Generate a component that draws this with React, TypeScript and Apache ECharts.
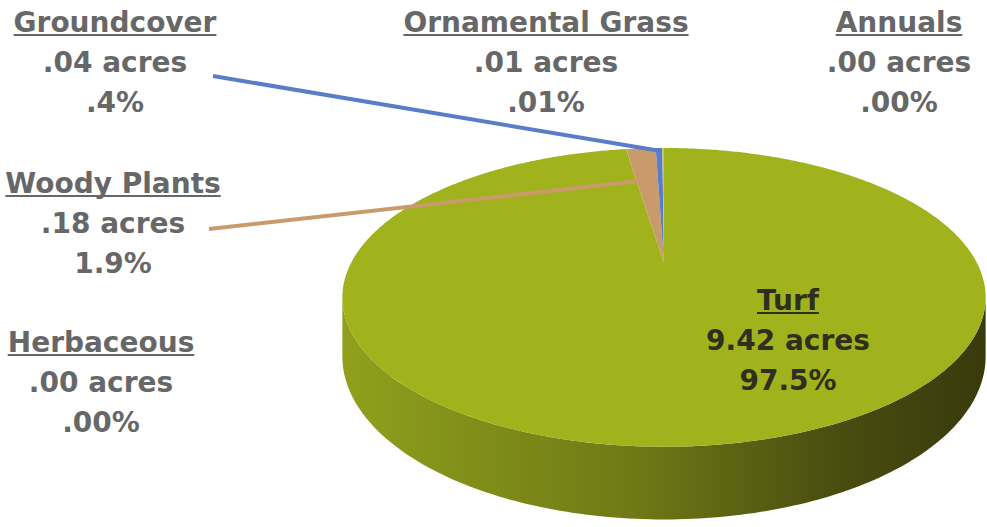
import React, { useEffect, useRef } from "react";
import * as echarts from "echarts";

// ---- data ----
const categories = ["Turf", "Woody Plants", "Groundcover", "Ornamental Grass", "Annuals", "Herbaceous"];
const acres = [9.42, 0.18, 0.04, 0.01, 0.0, 0.0];
const acreLabels = ["9.42 acres", ".18 acres", ".04 acres", ".01 acres", ".00 acres", ".00 acres"];
const percentLabels = ["97.5%", "1.9%", ".4%", ".01%", ".00%", ".00%"];

// ---- styles / layout ----
const topColors = ["#a0b21c", "#c99b6c", "#5b7cc8", "#b9c96e", "#e0c060", "#8fb0d8"];
const labelColors = ["#302e1c", "#676767", "#676767", "#676767", "#676767", "#676767"];
const labelPos: [number, number][] = [
  [788, 300],
  [113, 183],
  [115, 22],
  [546, 22],
  [899, 22],
  [101, 342],
];
const leaderStart: ([number, number] | null)[] = [null, [209, 229], [213, 76], null, null, null];
const leaderFrac = [0, 0.68, 0.97, 0, 0, 0];

const W = 987;
const H = 527;
const CX = 664;
const CY = 263;
const R = 313;
const PERSP = 0.23;
const TILT = 0.452;
const DEPTH = 56;
const FONT_SIZE = 28;
const FONT_FAMILY = "'DejaVu Sans'";
const LINE_H = 40;

function proj(theta: number, r: number, drop = 0): [number, number] {
  const t = (theta * Math.PI) / 180;
  const u = r * R * Math.sin(t);
  const v = r * R * Math.cos(t);
  const k = 1 / (1 + (PERSP * v) / R);
  return [CX + u * k, CY - TILT * v * k + drop * k];
}

const SIDE_MIN = (Math.acos(-PERSP) * 180) / Math.PI; // right silhouette
const SIDE_MAX = 360 - SIDE_MIN; // left silhouette

function measure(text: string): number {
  const c = document.createElement("canvas").getContext("2d");
  if (!c) return text.length * FONT_SIZE * 0.7;
  c.font = `bold ${FONT_SIZE}px ${FONT_FAMILY}`;
  return c.measureText(text).width;
}

export default function App() {
  const ref = useRef<HTMLDivElement>(null);
  useEffect(() => {
    document.body.style.margin = "0";
    if (!ref.current) return;
    const chart = echarts.init(ref.current, undefined, { renderer: "svg" });

    const total = acres.reduce((a, b) => a + b, 0);
    const starts: number[] = [];
    const ends: number[] = [];
    let acc = 0;
    acres.forEach((v) => {
      starts.push((acc / total) * 360);
      acc += v;
      ends.push((acc / total) * 360);
    });

    const sideGradient = new echarts.graphic.LinearGradient(0, 0, 1, 0, [
      { offset: 0, color: "#8fa01c" },
      { offset: 0.45, color: "#6f7a15" },
      { offset: 0.75, color: "#4b4f10" },
      { offset: 1, color: "#383a0c" },
    ]);

    const graphics: any[] = [];
    categories.forEach((name, i) => {
      const [x, y] = labelPos[i];
      const font = `bold ${FONT_SIZE}px ${FONT_FAMILY}`;
      const lines = [name, acreLabels[i], percentLabels[i]];
      lines.forEach((t, j) => {
        graphics.push({
          type: "text",
          x,
          y: y + j * LINE_H,
          z: 100,
          style: {
            text: t,
            font,
            fill: labelColors[i],
            textAlign: "center",
            textVerticalAlign: "middle",
          },
        });
      });
      const w = measure(name);
      graphics.push({
        type: "line",
        z: 100,
        shape: { x1: x - w / 2, y1: y + 13, x2: x + w / 2, y2: y + 13 },
        style: { stroke: labelColors[i], lineWidth: 2 },
      });
      const ls = leaderStart[i];
      if (ls) {
        const mid = (starts[i] + ends[i]) / 2;
        const [ex, ey] = proj(mid, leaderFrac[i]);
        graphics.push({
          type: "line",
          z: 100,
          shape: { x1: ls[0], y1: ls[1], x2: ex, y2: ey },
          style: { stroke: topColors[i], lineWidth: 4 },
        });
      }
    });

    chart.setOption({
      animation: false,
      series: [
        {
          type: "custom",
          coordinateSystem: "none",
          data: acres.map((v, i) => [i, v]),
          renderItem: (params: any, api: any) => {
            const i = params.dataIndex;
            const val = api.value(1);
            const a0 = starts[i];
            const a1 = ends[i];
            if (!(val > 0) || a1 - a0 <= 1e-6) return { type: "group", children: [] };
            const children: any[] = [];
            const s0 = Math.max(a0, SIDE_MIN);
            const s1 = Math.min(a1, SIDE_MAX);
            if (s1 > s0) {
              const pts: [number, number][] = [];
              const n = Math.max(2, Math.ceil(s1 - s0));
              for (let k = 0; k <= n; k++) pts.push(proj(s0 + ((s1 - s0) * k) / n, 1, 0));
              for (let k = n; k >= 0; k--) pts.push(proj(s0 + ((s1 - s0) * k) / n, 1, DEPTH));
              children.push({
                type: "polygon",
                shape: { points: pts },
                style: { fill: sideGradient },
              });
            }
            const top: [number, number][] = [proj(0, 0)];
            const m = Math.max(2, Math.ceil((a1 - a0) * 2));
            for (let k = 0; k <= m; k++) top.push(proj(a0 + ((a1 - a0) * k) / m, 1));
            children.push({
              type: "polygon",
              shape: { points: top },
              style: { fill: topColors[i] },
            });
            return { type: "group", children };
          },
        },
      ],
      graphic: graphics,
    });
    return () => chart.dispose();
  }, []);
  return <div ref={ref} style={{ width: W, height: H }} />;
}
